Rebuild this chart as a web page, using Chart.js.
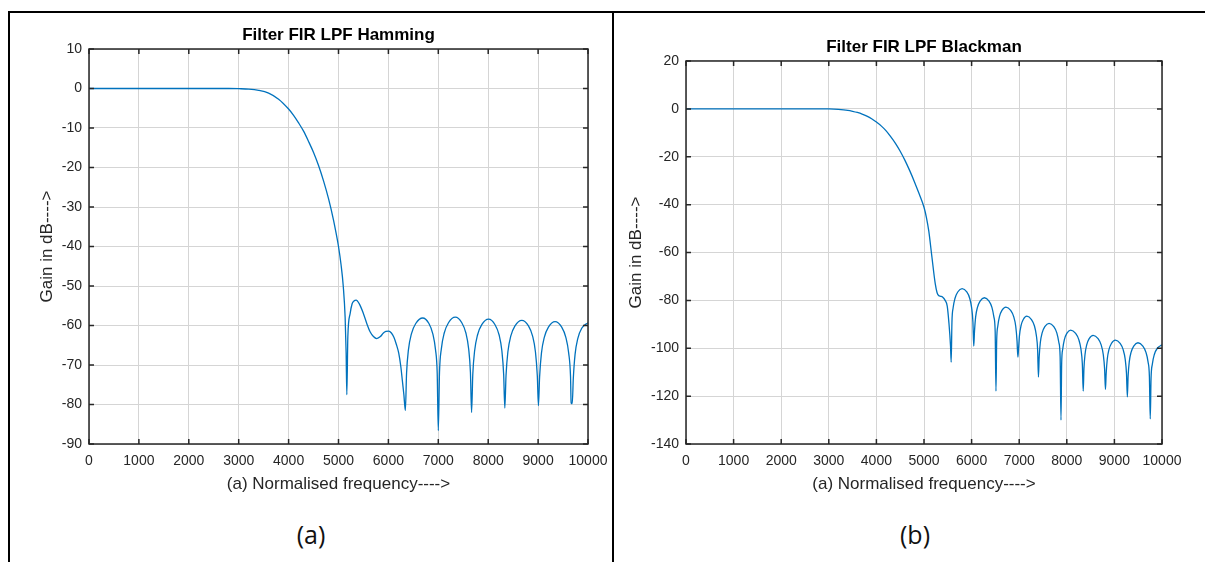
<!DOCTYPE html>
<html>
<head>
<meta charset="utf-8">
<script src="https://cdn.jsdelivr.net/npm/chart.js@4.4.1/dist/chart.umd.min.js"></script>
<style>
  body { margin: 0; background: #fff; }
  #page { position: relative; width: 1205px; height: 562px; overflow: hidden; }
  canvas { position: absolute; top: 0; }
  .rule { position: absolute; background: #000; }
  .cap { position: absolute; top: 517px; width: 80px; text-align: center;
         font-family: "Open Sans", "Noto Sans", sans-serif; font-size: 25px; color: #111; }
</style>
</head>
<body>
<div id="page">
  <canvas id="hamming" width="613" height="500" style="left:0"></canvas>
  <canvas id="blackman" width="592" height="500" style="left:613px"></canvas>
  <div class="rule" style="left:8px;top:11px;width:1197px;height:2px"></div>
  <div class="rule" style="left:8px;top:11px;width:2px;height:551px"></div>
  <div class="rule" style="left:612px;top:11px;width:2px;height:551px"></div>
  <div class="cap" style="left:271px">(a)</div>
  <div class="cap" style="left:875px">(b)</div>
</div>
<script>
// values (frequency in Hz, gain in dB)
const hammingFreq = [0, 500, 1000, 1500, 2000, 2500, 2800, 3000, 3200, 3400, 3600, 3800, 4000,
  4100, 4200, 4300, 4400, 4500, 4600, 4700, 4800, 4900, 4950, 5000, 5050, 5095, 5133, 5153, 5167,
  5187, 5233, 5273, 5310, 5353, 5420, 5500, 5570, 5633, 5700, 5767, 5840, 5900, 5950, 6007,
  6060, 6110, 6160, 6207, 6250, 6280, 6310, 6340,
  6364, 6402, 6461, 6548, 6687, 6812, 6890, 6944, 6978, 7000,
  7024, 7061, 7119, 7204, 7340, 7471, 7553, 7608, 7644, 7667,
  7691, 7728, 7786, 7871, 8007, 8137, 8219, 8274, 8310, 8333,
  8357, 8394, 8452, 8537, 8673, 8807, 8890, 8947, 8984, 9007,
  9030, 9067, 9124, 9207, 9340, 9473, 9556, 9613, 9650, 9662, 9684,
  9706, 9741, 9795, 9874, 10000];
const hammingGain = [0, 0, 0, 0, 0, 0, 0, -0.05, -0.15, -0.45, -1.15, -2.7, -5.2,
  -6.8, -8.7, -10.8, -13.4, -16.2, -19.5, -23.4, -27.9, -33.3, -36.5, -40, -44.5, -50, -58, -67, -77.5,
  -62.9, -57, -54.5, -53.8, -53.6, -54.6, -57, -59.6, -61.6, -62.8, -63.3, -62.8, -61.9, -61.5, -61.4,
  -61.9, -63, -64.8, -67, -70.5, -74, -77.5, -81.5,
  -72.1, -66.1, -62.1, -59.5, -58.1, -59.5, -62.1, -66.1, -72.1, -86.6,
  -71.9, -65.9, -61.9, -59.3, -57.9, -59.3, -61.9, -65.9, -71.9, -82.0,
  -72.4, -66.4, -62.4, -59.8, -58.4, -59.8, -62.4, -66.4, -72.4, -80.9,
  -72.7, -66.7, -62.7, -60.1, -58.7, -60.1, -62.7, -66.7, -72.7, -80.3,
  -73, -67, -63, -60.4, -59.0, -60.4, -63, -67, -73, -79.6, -79.8,
  -73.3, -67.3, -63.3, -60.7, -59.3];

const blackmanFreq = [0, 500, 1000, 1500, 2000, 2500, 2800, 3000, 3200, 3400, 3500, 3600, 3700, 3800, 3900, 4000,
  4100, 4200, 4300, 4400, 4500, 4600, 4700, 4800, 4900, 5000, 5050, 5100, 5167, 5236, 5275, 5306,
  5350, 5389, 5444, 5488, 5523, 5557, 5571,
  5587, 5612, 5652, 5709, 5801, 5899, 5960, 6001, 6028, 6045,
  6061, 6085, 6123, 6179, 6268, 6366, 6427, 6468, 6495, 6512,
  6527, 6550, 6585, 6637, 6721, 6821, 6884, 6927, 6954, 6972,
  6985, 7006, 7038, 7085, 7160, 7258, 7319, 7360, 7387, 7404,
  7420, 7444, 7482, 7538, 7627, 7727, 7790, 7833, 7860, 7878,
  7892, 7914, 7949, 8000, 8080, 8186, 8252, 8297, 8326, 8345,
  8360, 8383, 8418, 8470, 8554, 8657, 8722, 8766, 8794, 8812,
  8827, 8850, 8885, 8937, 9021, 9121, 9184, 9227, 9254, 9272,
  9288, 9312, 9350, 9406, 9495, 9598, 9663, 9707, 9735, 9753,
  9770, 9797, 9839, 9901, 10000];
const blackmanGain = [0, 0, 0, 0, 0, 0, 0, -0.03, -0.2, -0.6, -1.0, -1.5, -2.15, -3.0, -4.1, -5.5,
  -7.1, -9.1, -11.6, -14.4, -17.7, -21.5, -25.8, -30.5, -35.6, -41.1, -45.3, -51, -62, -73, -76.8, -78,
  -78.3, -78.6, -80, -82.4, -89.3, -99, -105.8,
  -89.1, -83.1, -79.1, -76.5, -75.1, -76.5, -79.1, -83.1, -89.1, -99.1,
  -92.9, -86.9, -82.9, -80.3, -78.9, -80.3, -82.9, -86.9, -92.9, -117.9,
  -96.8, -90.8, -86.8, -84.2, -82.8, -84.2, -86.8, -90.8, -96.8, -103.7,
  -100.6, -94.6, -90.6, -88, -86.6, -88, -90.6, -94.6, -100.6, -112,
  -103.6, -97.6, -93.6, -91, -89.6, -91, -93.6, -97.6, -103.6, -130,
  -106.4, -100.4, -96.4, -93.8, -92.4, -93.8, -96.4, -100.4, -106.4, -117.9,
  -108.6, -102.6, -98.6, -96, -94.6, -96, -98.6, -102.6, -108.6, -117.2,
  -110.6, -104.6, -100.6, -98, -96.6, -98, -100.6, -104.6, -110.6, -120.3,
  -111.7, -105.7, -101.7, -99.1, -97.7, -99.1, -101.7, -105.7, -111.7, -129.5,
  -112.6, -106.6, -102.6, -100, -98.6];

// axis ranges / tick steps
const freqRange = [0, 10000, 1000];
const hammingRange = [-90, 10, 10];
const blackmanRange = [-140, 20, 20];

const FONT = "Arial, 'Liberation Sans', sans-serif";
const LINE_BLUE = '#0072BD';

// MATLAB style box with inward ticks on all four sides
const boxPlugin = {
  id: 'matlabBox',
  afterDatasetsDraw(chart) {
    const ctx = chart.ctx;
    const a = chart.chartArea;
    const x = chart.scales.x, y = chart.scales.y;
    ctx.save();
    ctx.strokeStyle = '#262626';
    ctx.lineWidth = 1.5;
    ctx.strokeRect(a.left, a.top, a.right - a.left, a.bottom - a.top);
    ctx.beginPath();
    x.ticks.forEach(t => {
      const px = x.getPixelForValue(t.value);
      ctx.moveTo(px, a.bottom); ctx.lineTo(px, a.bottom - 5);
      ctx.moveTo(px, a.top);    ctx.lineTo(px, a.top + 5);
    });
    y.ticks.forEach(t => {
      const py = y.getPixelForValue(t.value);
      ctx.moveTo(a.left, py);  ctx.lineTo(a.left + 5, py);
      ctx.moveTo(a.right, py); ctx.lineTo(a.right - 5, py);
    });
    ctx.stroke();
    ctx.restore();
  }
};

function toPoints(freq, gain) {
  return freq.map((f, i) => ({ x: f, y: gain[i] }))
}

function makeChart(id, title, freq, gain, yRange, lay) {
  const ctx = document.getElementById(id).getContext('2d')
  return new Chart(ctx, {
    type: 'line',
    data: {
      datasets: [{
        data: toPoints(freq, gain),
        borderColor: LINE_BLUE,
        borderWidth: 1.3,
        pointRadius: 0,
        cubicInterpolationMode: 'monotone',
        fill: false
      }]
    },
    options: {
      responsive: false,
      animation: false,
      layout: { padding: { left: 0, top: 0, right: lay.right, bottom: 0 } },
      plugins: {
        legend: { display: false },
        tooltip: { enabled: false },
        title: {
          display: true,
          text: title,
          fullSize: false,
          color: '#000',
          font: { family: FONT, size: 17, weight: 'bold' },
          padding: { top: lay.titleTop, bottom: 3.8 }
        }
      },
      scales: {
        x: {
          type: 'linear',
          min: freqRange[0], max: freqRange[1],
          // padding 0 keeps the last label from eating into the plot width,
          // the tall line height pushes the labels down instead
          ticks: { stepSize: freqRange[2], color: '#262626', padding: 0,
                   font: { family: FONT, size: 14, lineHeight: 2.5 }, maxRotation: 0,
                   callback: v => String(v) },
          grid: { color: '#d5d5d5', lineWidth: 1, drawTicks: false },
          border: { display: false },
          title: { display: true, text: '(a) Normalised frequency---->', color: '#262626',
                   font: { family: FONT, size: 17 }, padding: { top: 0, bottom: 5.8 } },
          afterFit: s => { s.height = 56 }
        },
        y: {
          type: 'linear',
          min: yRange[0], max: yRange[1],
          ticks: { stepSize: yRange[2], color: '#262626', padding: 7,
                   font: { family: FONT, size: 14 } },
          grid: { color: '#d5d5d5', lineWidth: 1, drawTicks: false },
          border: { display: false },
          title: { display: true, text: 'Gain in dB---->', color: '#262626',
                   font: { family: FONT, size: 17 }, padding: { top: lay.yTitle, bottom: 0 } },
          afterFit: s => { s.width = lay.yWidth }
        }
      }
    },
    plugins: [boxPlugin]
  })
}

makeChart('hamming', 'Filter FIR LPF Hamming', hammingFreq, hammingGain, hammingRange,
  { right: 25, titleTop: 24.8, yTitle: 36.8, yWidth: 89 })
makeChart('blackman', 'Filter FIR LPF Blackman', blackmanFreq, blackmanGain, blackmanRange,
  { right: 43, titleTop: 36.8, yTitle: 12.8, yWidth: 73 })
</script>
</body>
</html>
